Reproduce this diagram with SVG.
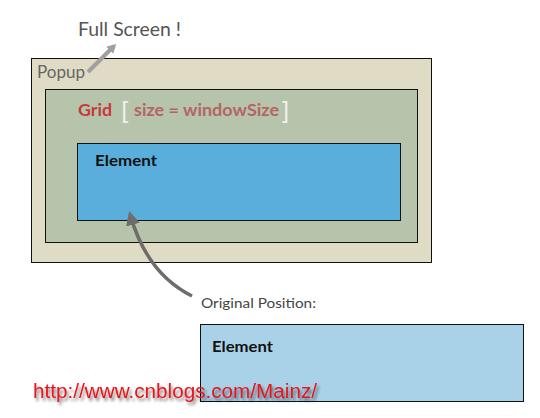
<svg xmlns="http://www.w3.org/2000/svg" width="540" height="418" viewBox="0 0 540 418">
<style>
.hand{font-family:"Lato","DejaVu Sans",sans-serif}
.box{stroke:#111;stroke-width:1}
.lbl{font-family:"Lato","DejaVu Sans",sans-serif;font-weight:bold;font-size:16px;fill:#111}
</style>
<defs>
<marker id="ah1" markerWidth="9" markerHeight="10" refX="6" refY="5" orient="auto" markerUnits="userSpaceOnUse"><path d="M0,0 L9,5 L0,10 Z" fill="#a19fa3"/></marker>
<marker id="ah2" markerWidth="14" markerHeight="14" refX="11" refY="7" orient="auto" markerUnits="userSpaceOnUse"><path d="M0,0 L14,7 L0,14 Z" fill="#6f6c6c"/></marker>
<filter id="sh" x="-5%" y="-30%" width="115%" height="180%"><feGaussianBlur in="SourceAlpha" stdDeviation="1.5"/><feOffset dx="2" dy="3"/><feComponentTransfer><feFuncA type="linear" slope="0.5"/></feComponentTransfer><feMerge><feMergeNode/><feMergeNode in="SourceGraphic"/></feMerge></filter>
</defs>
<rect width="540" height="418" fill="#fff"/>
<g id="popup">
<rect class="box" x="31.5" y="58.5" width="400" height="204" fill="#e0dbc4"/>
<text x="37" y="78" class="hand" font-size="17" fill="#666" textLength="48" lengthAdjust="spacingAndGlyphs">Popup</text>
</g>
<g id="grid">
<rect class="box" x="45.5" y="89.5" width="372" height="153" fill="#b5c4aa"/>
<text x="78" y="116" class="hand" font-size="17" font-weight="bold" fill="#c8393b" textLength="34" lengthAdjust="spacingAndGlyphs">Grid</text>
<text x="121" y="120" font-family="DejaVu Sans,sans-serif" font-size="24" fill="#eeeeea">[</text>
<text x="134" y="116" class="hand" font-size="17" font-weight="bold" fill="#b46565" textLength="145" lengthAdjust="spacingAndGlyphs">size = windowSize</text>
<text x="280" y="120" font-family="DejaVu Sans,sans-serif" font-size="24" fill="#eeeeea">]</text>
</g>
<g id="element">
<rect class="box" x="77.5" y="143.5" width="323" height="77" fill="#5aaedc"/>
<text x="95" y="166" class="lbl" textLength="62" lengthAdjust="spacingAndGlyphs">Element</text>
</g>
<g id="element-original">
<rect class="box" x="200.5" y="324.5" width="323" height="77" fill="#a9d1e7"/>
<text x="212" y="352" class="lbl" textLength="61" lengthAdjust="spacingAndGlyphs">Element</text>
</g>
<g id="fullscreen">
<text x="78" y="36" class="hand" font-size="19" fill="#555" textLength="103" lengthAdjust="spacingAndGlyphs">Full Screen !</text>
</g>
<g id="origpos">
<text x="201" y="308" class="hand" font-size="14" fill="#444" textLength="115" lengthAdjust="spacingAndGlyphs">Original Position:</text>
</g>
<g id="connectors">
<path d="M88,72 L114,46" stroke="#a19fa3" stroke-width="4" fill="none" marker-end="url(#ah1)"/>
<path d="M192,296 C160,280 140,250 130,214" stroke="#6f6c6c" stroke-width="3.5" fill="none" marker-end="url(#ah2)"/>
</g>
<text x="33" y="398" font-family="Liberation Sans,Arial,sans-serif" font-size="20" fill="#e8141a" filter="url(#sh)" textLength="284" lengthAdjust="spacingAndGlyphs">http://www.cnblogs.com/Mainz/</text>
</svg>
